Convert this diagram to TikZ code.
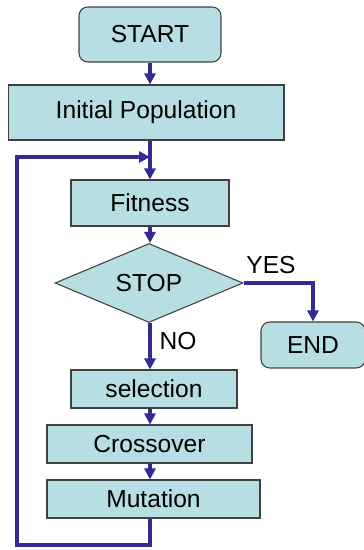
\documentclass[tikz,border=0pt]{standalone}
\usepackage{fontspec}
\setmainfont{Liberation Sans}
\usetikzlibrary{arrows.meta,shapes.geometric}
\definecolor{boxfill}{RGB}{183,222,226}
\definecolor{flowline}{RGB}{52,42,150}

\begin{document}
\begin{tikzpicture}[
  x=0.02cm, y=-0.02cm,
  font=\fontsize{14}{16}\selectfont,
  box/.style={draw=black!75, line width=0.6pt, fill=boxfill, align=center, inner sep=0pt, minimum height=0.76cm},
  roundbox/.style={box, rounded corners=5pt},
  decision/.style={draw=black!75, line width=0.6pt, fill=boxfill, diamond, aspect=2.4, inner sep=0pt, minimum width=3.76cm, minimum height=1.58cm},
  flow/.style={-{Triangle[length=2.2mm,width=2.2mm]}, line width=2.1pt, draw=flowline},
  label/.style={inner sep=0pt}
]
\useasboundingbox (0,0) rectangle (364,550);

\node[roundbox, minimum width=2.84cm, minimum height=1.1cm] (start) at (150,34.5) {START};
\node[box, minimum width=5.52cm, minimum height=1.1cm] (init) at (146,112.5) {Initial Population};
\node[box, minimum width=3.16cm, minimum height=0.92cm] (fit) at (150,203) {Fitness};
\node[decision] (stop) at (149,283) {STOP};
\node[roundbox, minimum width=2.08cm, minimum height=0.92cm] (endn) at (313,345) {END};
\node[box, minimum width=3.32cm] (sel) at (154,389) {selection};
\node[box, minimum width=4.1cm] (cross) at (149.5,444) {Crossover};
\node[box, minimum width=4.26cm] (mut) at (153.5,499) {Mutation};

\node[label] (yes) at (271,265) {YES};
\node[label] (no) at (178,341) {NO};

\coordinate (loopin) at (150,157);
\coordinate (bend) at (17,545);

\draw[flow] (start.south) -- (start.south |- init.north);
\draw[flow] (init.south -| start.south) -- (fit.north -| start.south);
\draw[flow] (fit.south -| start.south) -- (stop.north -| start.south);
\draw[flow] (stop.east) -| (endn.north);
\draw[flow] (stop.south -| start.south) -- (sel.north -| start.south);
\draw[flow] (sel.south -| start.south) -- (cross.north -| start.south);
\draw[flow] (cross.south -| start.south) -- (mut.north -| start.south);
\draw[flow] (mut.south -| loopin) |- (bend) |- (loopin);

\end{tikzpicture}
\end{document}
